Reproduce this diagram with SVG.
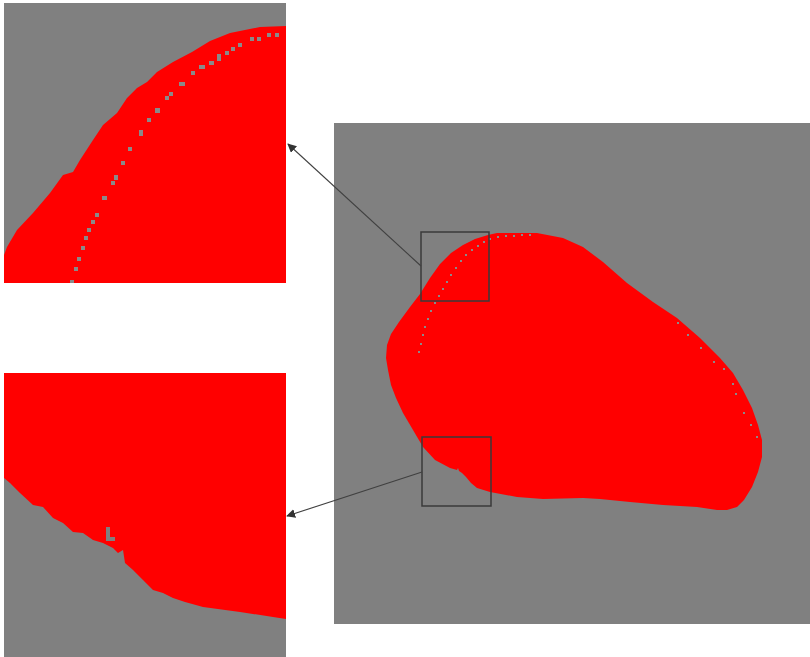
<svg xmlns="http://www.w3.org/2000/svg" width="810" height="657" viewBox="0 0 810 657">
<style>
.bg{fill:#808080}
.red{fill:#ff0000}
.dot{fill:#8a8a8a}
.roi{fill:none;stroke:#3a3a3a;stroke-width:1.5}
.conn{fill:none;stroke:#404040;stroke-width:1.1}
</style>
<defs>
<marker id="arr" viewBox="0 0 10 10" refX="9" refY="5" markerWidth="9" markerHeight="9" markerUnits="userSpaceOnUse" orient="auto">
<path d="M0,0 L10,5 L0,10 z" fill="#333"/>
</marker>
</defs>
<rect width="810" height="657" fill="#ffffff"/>

<g id="main-image">
<rect class="bg" x="334" y="123" width="476" height="501"/>
<path class="red" d="M488,235 L497,233 L537,233 L563,238 L583,247 L603,262 L627,283 L653,302 L677,318 L700,338 L720,358 L733,373 L743,390 L752,408 L758,425 L762,440 L762,457 L758,472 L752,487 L744,500 L737,507 L727,510 L717,510 L697,507 L663,505 L630,502 L600,499 L583,498 L543,499 L517,497 L490,492 L477,488 L471,483 L466,477 L462,473 L459,471 L458,468 L457,470 L450,468 L435,460 L423,447 L413,430 L403,413 L396,398 L391,385 L388,370 L386,358 L387,345 L391,334 L399,322 L410,307 L420,294 L430,278 L440,264 L451,253 L463,245 L475,239 Z"/>
<g class="dot">
<rect x="418" y="351" width="2" height="2"/><rect x="420" y="343" width="2" height="2"/><rect x="422" y="334" width="2" height="2"/><rect x="424" y="326" width="2" height="2"/><rect x="427" y="318" width="2" height="2"/><rect x="430" y="310" width="2" height="2"/><rect x="434" y="302" width="2" height="2"/><rect x="438" y="295" width="2" height="2"/><rect x="442" y="288" width="2" height="2"/><rect x="446" y="281" width="2" height="2"/><rect x="450" y="274" width="2" height="2"/><rect x="455" y="267" width="2" height="2"/><rect x="460" y="260" width="2" height="2"/><rect x="465" y="254" width="2" height="2"/><rect x="471" y="249" width="2" height="2"/><rect x="477" y="245" width="2" height="2"/><rect x="483" y="241" width="2" height="2"/><rect x="489" y="238" width="2" height="2"/><rect x="497" y="236" width="2" height="2"/><rect x="505" y="235" width="2" height="2"/><rect x="513" y="235" width="2" height="2"/><rect x="521" y="234" width="2" height="2"/><rect x="529" y="234" width="2" height="2"/>
<rect x="677" y="322" width="2" height="2"/><rect x="687" y="334" width="2" height="2"/><rect x="700" y="347" width="2" height="2"/><rect x="713" y="361" width="2" height="2"/><rect x="723" y="368" width="2" height="2"/><rect x="732" y="383" width="2" height="2"/><rect x="735" y="393" width="2" height="2"/><rect x="743" y="412" width="2" height="2"/><rect x="750" y="424" width="2" height="2"/><rect x="756" y="436" width="2" height="2"/>
</g>
</g>

<g id="roi-top">
<rect class="roi" x="421" y="232" width="68" height="69"/>
</g>
<g id="roi-bottom">
<rect class="roi" x="422" y="437" width="69" height="69"/>
</g>

<g id="zoom-top">
<rect class="bg" x="4" y="3" width="282" height="280"/>
<path class="red" d="M4,255 L7,247 L17,230 L33,213 L50,193 L63,175 L73,172 L80,160 L93,140 L103,125 L117,113 L127,98 L137,88 L147,82 L157,72 L173,62 L192,52 L210,41 L230,33 L260,27 L286,26 L286,283 L4,283 Z"/>
<g class="dot">
<rect x="70" y="280" width="4" height="3"/><rect x="74" y="267" width="4" height="4"/><rect x="77" y="257" width="4" height="4"/><rect x="81" y="246" width="4" height="4"/><rect x="84" y="236" width="4" height="4"/><rect x="87" y="228" width="4" height="4"/><rect x="91" y="220" width="4" height="4"/><rect x="95" y="213" width="4" height="4"/><rect x="102" y="196" width="5" height="4"/><rect x="111" y="181" width="4" height="4"/><rect x="114" y="175" width="4" height="5"/><rect x="121" y="161" width="4" height="4"/><rect x="128" y="147" width="4" height="4"/><rect x="139" y="130" width="4" height="6"/><rect x="147" y="118" width="4" height="4"/><rect x="155" y="108" width="5" height="5"/><rect x="165" y="96" width="4" height="4"/><rect x="169" y="92" width="4" height="4"/><rect x="179" y="82" width="6" height="4"/><rect x="191" y="71" width="4" height="4"/><rect x="199" y="65" width="6" height="4"/><rect x="209" y="61" width="5" height="4"/><rect x="217" y="54" width="4" height="7"/><rect x="225" y="51" width="4" height="4"/><rect x="231" y="47" width="4" height="4"/><rect x="238" y="43" width="4" height="4"/><rect x="250" y="37" width="4" height="4"/><rect x="257" y="37" width="4" height="4"/><rect x="267" y="33" width="4" height="4"/><rect x="275" y="33" width="4" height="4"/>
</g>
</g>

<g id="zoom-bottom">
<rect class="red" x="4" y="373" width="282" height="284"/>
<path class="bg" d="M4,478 L10,483 L20,493 L33,505 L43,507 L53,518 L63,523 L73,532 L83,533 L93,540 L103,543 L113,548 L118,553 L123,550 L125,563 L133,570 L143,580 L153,590 L163,593 L173,598 L185,602 L203,607 L240,612 L273,617 L286,619 L286,657 L4,657 Z"/>
<path class="bg" d="M106,527 L110,527 L110,537 L115,537 L115,541 L106,541 Z"/>
</g>

<g id="connectors">
<line class="conn" x1="421" y1="266" x2="288" y2="144" marker-end="url(#arr)"/>
<line class="conn" x1="422" y1="472" x2="287" y2="516" marker-end="url(#arr)"/>
</g>
</svg>
